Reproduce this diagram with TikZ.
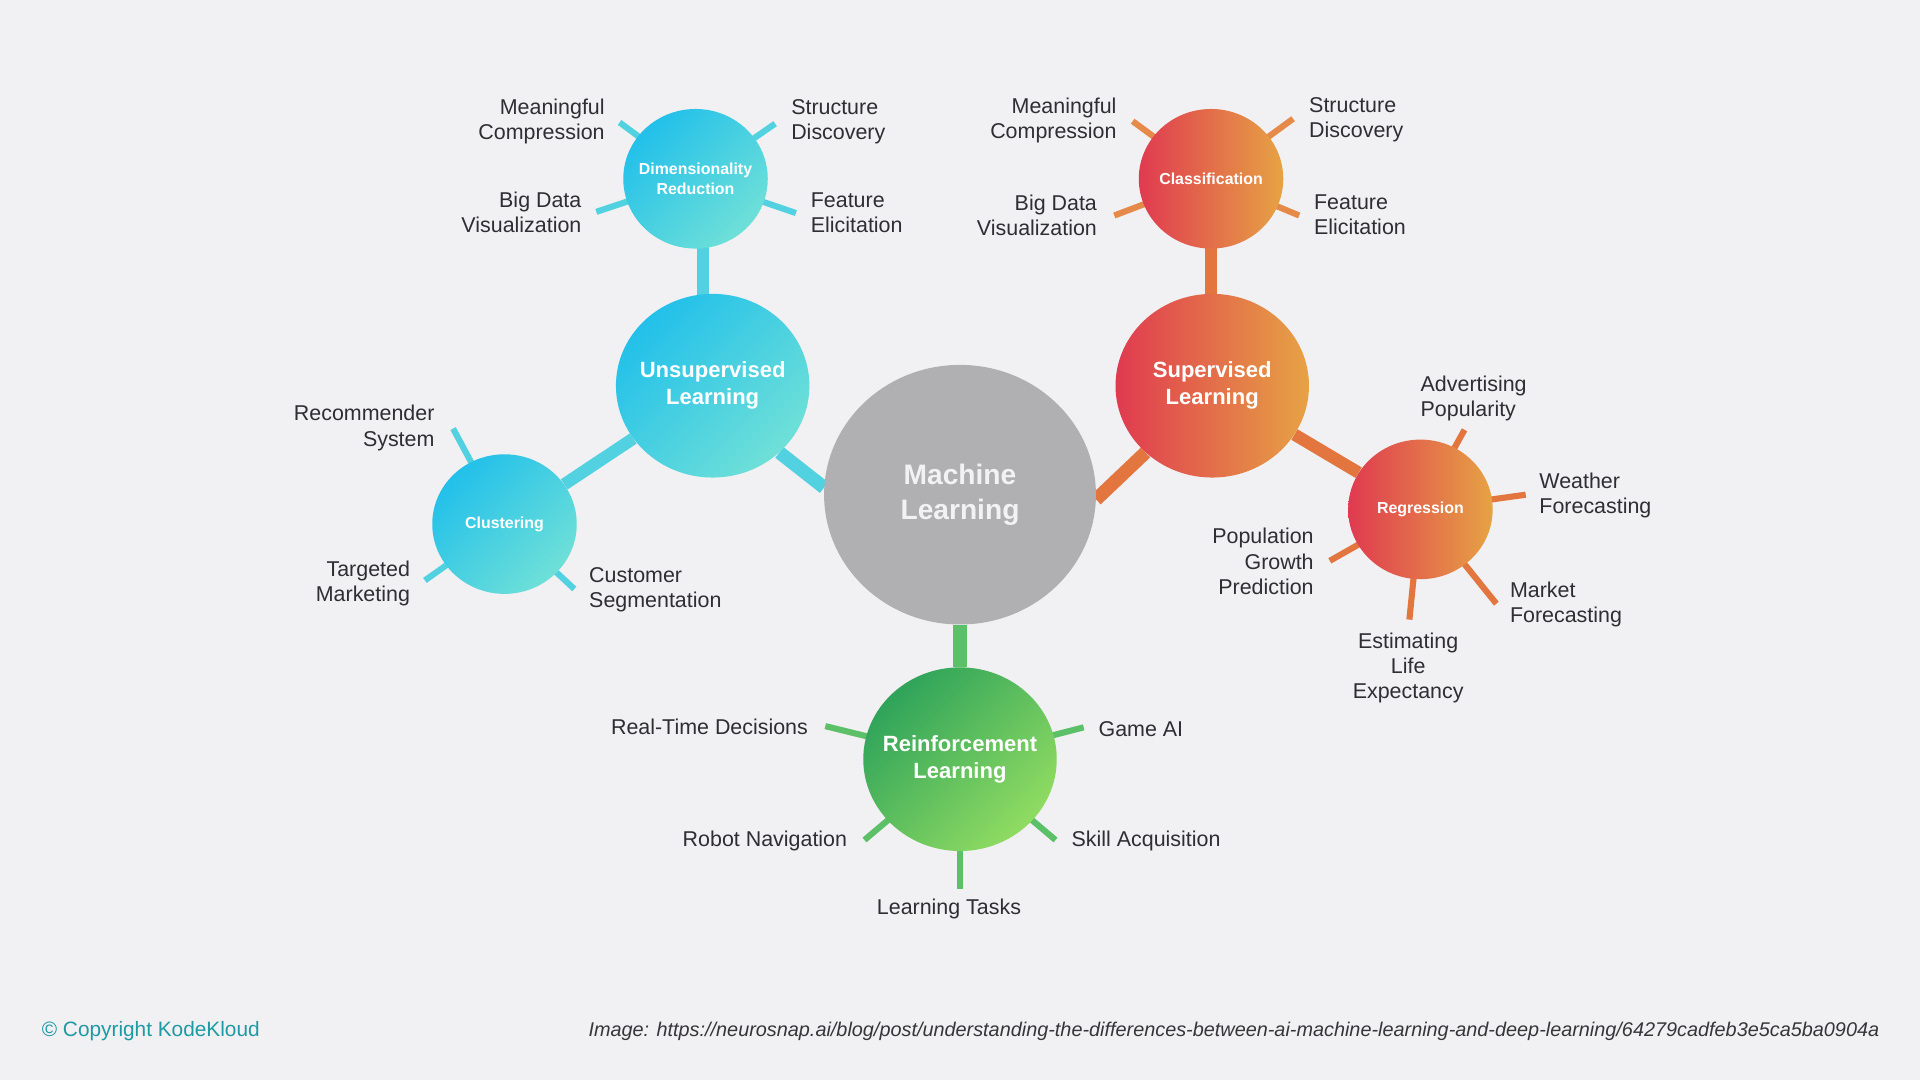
\documentclass[tikz,border=0pt]{standalone}
\usepackage{fontspec}
\setmainfont{Liberation Sans}
\usetikzlibrary{shapes.geometric}
\pgfdeclarelayer{back}
\pgfdeclarelayer{bg}
\pgfsetlayers{back,bg,main}
\definecolor{bgc}{HTML}{F1F0F2}
\definecolor{labc}{HTML}{2E2E33}
\definecolor{blueA}{HTML}{22C0EA}
\definecolor{blueB}{HTML}{6FE0D8}
\definecolor{bluel}{HTML}{52D2E0}
\definecolor{redA}{HTML}{E03A50}
\definecolor{orB}{HTML}{E6A344}
\definecolor{orl}{HTML}{E3763F}
\definecolor{orsp}{HTML}{E68A4A}
\definecolor{greenA}{HTML}{2FA35A}
\definecolor{greenB}{HTML}{90DC62}
\definecolor{greenl}{HTML}{5CC068}
\definecolor{mlgray}{HTML}{B0AFB2}
\definecolor{mltext}{HTML}{F2F2F3}
\definecolor{kkteal}{HTML}{1E9AA3}
\definecolor{srcc}{HTML}{36363A}
\begin{document}
\begin{tikzpicture}[x=1pt,y=-1pt,
  circ/.style={ellipse, inner ysep=0pt, inner xsep=-20pt, text=white, align=center},
  bigc/.style={circ, minimum width=158pt, minimum height=150pt, font=\bfseries\fontsize{18}{22}\selectfont},
  smallc/.style={circ, minimum width=118pt, minimum height=114pt, font=\bfseries\fontsize{13}{16}\selectfont},
  blueshade/.style={top color=blueA, bottom color=blueB, shading angle=45},
  orangeshade/.style={left color=redA, right color=orB},
  greenshade/.style={top color=greenA, bottom color=greenB, shading angle=45},
  lbl/.style={text=labc, font=\fontsize{17.5}{20.5}\selectfont, inner sep=0pt, yshift=-1.5pt},
  lblL/.style={lbl, anchor=west, align=left},
  lblR/.style={lbl, anchor=east, align=right},
  lblC/.style={lbl, anchor=center, align=center},
  mainb/.style={draw=bluel, line width=11pt},
  spokeb/.style={draw=bluel, line width=5pt},
  maino/.style={draw=orl, line width=11pt},
  spokeo/.style={draw=orsp, line width=5pt},
  maing/.style={draw=greenl, line width=12pt},
  spokeg/.style={draw=greenl, line width=5pt}]
\begin{pgfonlayer}{back}
\fill[bgc] (0,0) rectangle (1568,882);
\end{pgfonlayer}
\useasboundingbox (0,0) rectangle (1568,882);

% circles
\node[ellipse, inner sep=0pt, minimum width=222pt, minimum height=212pt, fill=mlgray,
      text=mltext, align=center, font=\bfseries\fontsize{23}{28}\selectfont] (ml) at (784,404) {Machine\\Learning};
\node[bigc, blueshade] (unsup) at (582,315) {Unsupervised\\Learning};
\node[smallc, blueshade] (dim) at (568,146) {Dimensionality\\Reduction};
\node[smallc, blueshade] (clust) at (412,428) {Clustering};
\node[bigc, orangeshade] (sup) at (990,315) {Supervised\\Learning};
\node[smallc, orangeshade] (cls) at (989,146) {Classification};
\node[smallc, orangeshade] (reg) at (1160,416) {Regression};
\node[bigc, greenshade] (rl) at (784,620) {Reinforcement\\Learning};

% spoke ends
\coordinate (dMC) at (506,100);
\coordinate (dSD) at (633,101);
\coordinate (dBD) at (487,173);
\coordinate (dFE) at (650,174);
\coordinate (cMC) at (925,99);
\coordinate (cSD) at (1056,97);
\coordinate (cBD) at (910,176);
\coordinate (cFE) at (1061,176);
\coordinate (kRS) at (370,350);
\coordinate (kTM) at (347,474);
\coordinate (kCS) at (469,481);
\coordinate (rAP) at (1196,351);
\coordinate (rWF) at (1246,404);
\coordinate (rMF) at (1222,493);
\coordinate (rEL) at (1151,506);
\coordinate (rPG) at (1086,458);
\coordinate (gRT) at (674,593);
\coordinate (gGA) at (885,594);
\coordinate (gRN) at (706,686);
\coordinate (gSA) at (862,686);
\coordinate (gLT) at (784,726);

\begin{pgfonlayer}{bg}
\draw[mainb] (unsup.-45) -- (ml.177);
\draw[mainb, line width=10pt] (unsup) -- (clust);
\draw[mainb, line width=10pt] ([xshift=6pt]dim.center) -- ([xshift=-8pt]unsup.center);
\draw[maino] (ml.-2) -- (sup.225);
\draw[maino, line width=10pt] (cls.center) -- ([xshift=-1pt]sup.center);
\draw[maino, line width=10pt] (sup) -- (reg);
\draw[maing] (ml) -- (rl);
\foreach \c in {dMC,dSD,dBD,dFE} \draw[spokeb] (dim.center) -- (\c);
\foreach \c in {kRS,kTM,kCS} \draw[spokeb] (clust.center) -- (\c);
\foreach \c in {cMC,cSD,cBD,cFE} \draw[spokeo] (cls.center) -- (\c);
\foreach \c in {rAP,rWF,rMF,rEL,rPG} \draw[spokeo, draw=orl] (reg.center) -- (\c);
\foreach \c in {gRT,gGA,gRN,gSA,gLT} \draw[spokeg] (rl.center) -- (\c);
\end{pgfonlayer}

% labels
\node[lblR] (l1) at (494,98) {Meaningful\\Compression};
\node[lblL] (l2) at (646,98) {Structure\\Discovery};
\node[lblR] (l3) at (475,172) {Big Data\\Visualization};
\node[lblL] (l4) at (662,172) {Feature\\Elicitation};
\node[lblR] (l5) at (912,97) {Meaningful\\Compression};
\node[lblL] (l6) at (1069,96) {Structure\\Discovery};
\node[lblR] (l7) at (896,174) {Big Data\\Visualization};
\node[lblL] (l8) at (1073,174) {Feature\\Elicitation};
\node[lblR] (l9) at (355,348) {Recommender\\System};
\node[lblR] (l10) at (335,475) {Targeted\\Marketing};
\node[lblL] (l11) at (481,480) {Customer\\Segmentation};
\node[lblL] (l12) at (1160,324) {Advertising\\Popularity};
\node[lblL] (l13) at (1257,403) {Weather\\Forecasting};
\node[lblL] (l14) at (1233,492) {Market\\Forecasting};
\node[lblC] (l15) at (1150,544) {Estimating\\Life\\Expectancy};
\node[lblR] (l16) at (1073,457) {Population\\Growth\\Prediction};
\node[lblR] (l17) at (660,592) {Real-Time Decisions};
\node[lblL] (l18) at (897,594) {Game AI};
\node[lblR] (l19) at (692,685) {Robot Navigation};
\node[lblL] (l20) at (875,685) {Skill Acquisition};
\node[lblC] (l21) at (775,741) {Learning Tasks};

% footer
\node[anchor=west, inner sep=0pt, text=kkteal, font=\fontsize{17}{20}\selectfont] (copy) at (34,842) {© Copyright KodeKloud};
\node[anchor=east, inner sep=0pt, text=srcc, font=\itshape\fontsize{14.5}{17}\selectfont] (src) at (1535,842)
  {\resizebox{1054pt}{!}{Image: https://neurosnap.ai/blog/post/understanding-the-differences-between-ai-machine-learning-and-deep-learning/64279cadfeb3e5ca5ba0904a}};
\end{tikzpicture}
\end{document}
